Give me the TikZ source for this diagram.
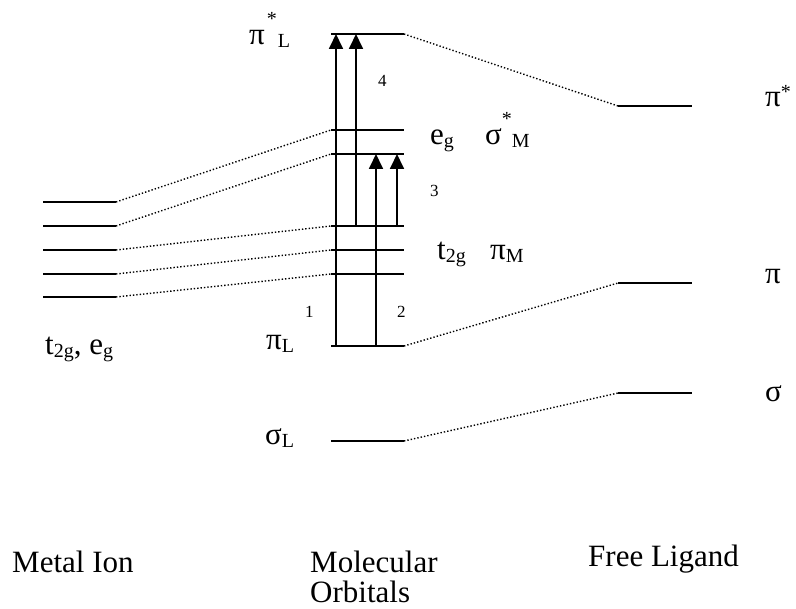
\documentclass[tikz,border=0pt]{standalone}
\usepackage{fontspec}
\setmainfont{Liberation Serif}
\usetikzlibrary{arrows.meta}
\newcommand\lsub[1]{\raisebox{-3pt}{\fontsize{20}{20}\selectfont #1}}
\newcommand\hsup[2][19pt]{\raisebox{#1}{\fontsize{20}{20}\selectfont #2}}
\tikzset{
  level/.style={line width=2.6pt},
  corr/.style={line width=1.4pt, dash pattern=on 1.4pt off 2pt},
  trans/.style={line width=1.8pt, -{Triangle[length=15pt,width=14pt]}},
  lab/.style={anchor=base west, inner sep=0pt, font=\fontsize{31}{34}\selectfont},
  num/.style={anchor=base west, inner sep=0pt, font=\fontsize{17}{17}\selectfont},
}
\begin{document}
\begin{tikzpicture}[x=1pt,y=-1pt]
\useasboundingbox (0,0) rectangle (796,609);
% metal ion levels
\foreach \n/\y in {1/202,2/226,3/250,4/274,5/297}{
  \coordinate (m\n l) at (43,\y);
  \coordinate (m\n r) at (116,\y);
  \draw[level] (m\n l) -- (m\n r);
}
% molecular orbital levels
\foreach \n/\y in {pis/34,eg/130,sm/154,ta/226,tb/250,tc/274,pl/346,sl/441}{
  \coordinate (\n L) at (331,\y);
  \coordinate (\n R) at (404,\y);
  \draw[level] (\n L) -- (\n R);
}
% free ligand levels
\foreach \n/\y in {fps/106,fp/283,fs/393}{
  \coordinate (\n L) at (618,\y);
  \coordinate (\n R) at (692,\y);
  \draw[level] (\n L) -- (\n R);
}
% correlation lines
\draw[corr] (m1r) -- (egL);
\draw[corr] (m2r) -- (smL);
\draw[corr] (m3r) -- (taL);
\draw[corr] (m4r) -- (tbL);
\draw[corr] (m5r) -- (tcL);
\draw[corr] (pisR) -- (fpsL);
\draw[corr] (plR) -- (fpL);
\draw[corr] (slR) -- (fsL);
% transitions
\coordinate (a1s) at (336,346); \coordinate (a1e) at (336,34);
\coordinate (a2s) at (356,226); \coordinate (a2e) at (356,34);
\coordinate (a3s) at (376,346); \coordinate (a3e) at (376,154);
\coordinate (a4s) at (397,226); \coordinate (a4e) at (397,154);
\draw[trans] (a1s) -- (a1e);
\draw[trans] (a2s) -- (a2e);
\draw[trans] (a3s) -- (a3e);
\draw[trans] (a4s) -- (a4e);
% numbers
\node[num] (n4) at (378,87) {4};
\node[num] (n3) at (430,197) {3};
\node[num] (n1) at (305,318) {1};
\node[num] (n2) at (397,318) {2};
% labels
\node[lab] (lpis) at (249,45) {π\hspace{2pt}\hsup{*}\hspace{1pt}\lsub{L}};
\node[lab] (leg) at (430,145) {e\lsub{g}};
\node[lab] (lsm) at (485,145) {σ\hsup{*}\lsub{M}};
\node[lab] (ltg) at (437,260) {t\lsub{2g}};
\node[lab] (lpm) at (490,260) {π\lsub{M}};
\node[lab] (lpl) at (266,350) {π\lsub{L}};
\node[lab] (lsl) at (265,445) {σ\lsub{L}};
\node[lab] (lmi) at (45,355) {t\lsub{2g}, e\lsub{g}};
\node[lab] (lfps) at (765,107) {π\hsup[8pt]{*}};
\node[lab] (lfp) at (765,284) {π};
\node[lab] (lfs) at (765,402) {σ};
\node[lab] (bmi) at (12,573) {Metal Ion};
\node[lab] (bmo1) at (310,573) {Molecular};
\node[lab, text depth=0pt] (bmo2) at (310,603) {Orbitals};
\node[lab] (bfl) at (588,567) {Free Ligand};
\end{tikzpicture}
\end{document}
